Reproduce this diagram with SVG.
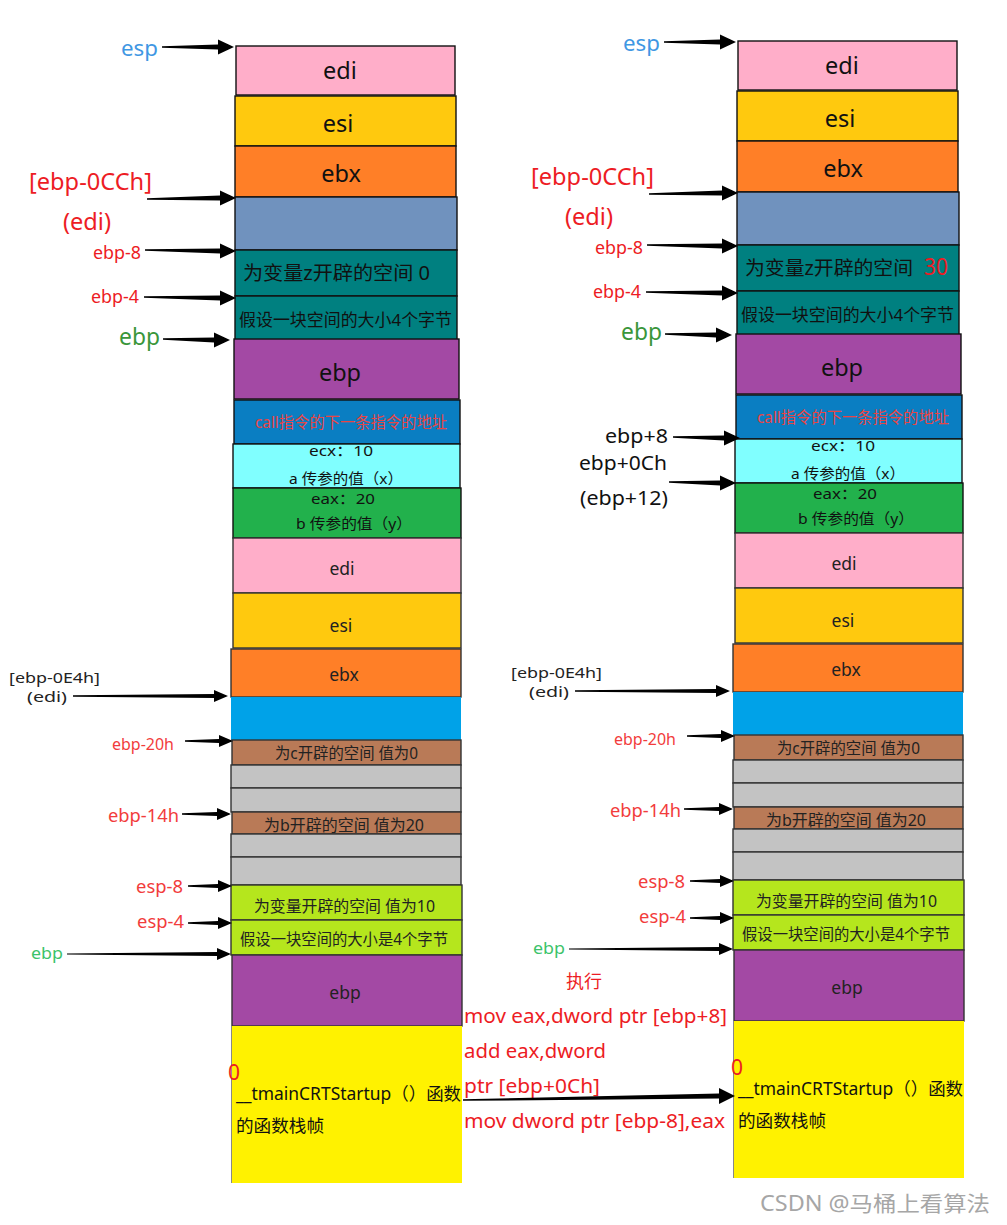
<svg xmlns="http://www.w3.org/2000/svg" width="1007" height="1225" viewBox="0 0 1007 1225">
<style>
text{font-family:"Noto Sans","Noto Sans CJK SC",sans-serif}
.b{stroke:#111;stroke-width:1.4}
.g{stroke:#333;stroke-width:1.4}
.big{font-size:23.5px;fill:#111;text-anchor:middle}
.mid{font-size:17.5px;fill:#222;text-anchor:middle}
.cn{font-size:15px;fill:#111}
.sm{font-size:15.5px;fill:#222}
.arr{fill:#000}
.code{font-size:19.5px;fill:#ED1C24}
</style>
<rect width="1007" height="1225" fill="#fff"/>

<!-- LEFT STACK -->
<g id="left-stack">
<g id="L-edi1"><rect class="b" x="236" y="46" width="219" height="49" fill="#FFAEC9"/><text class="big" x="340" y="79">edi</text></g>
<g id="L-esi1"><rect class="b" x="235" y="96" width="221" height="50" fill="#FFC90E"/><text class="big" x="338" y="132">esi</text></g>
<g id="L-ebx1"><rect class="b" x="235" y="146" width="221" height="51" fill="#FF7F27"/><text class="big" x="341" y="182">ebx</text></g>
<g id="L-edi-space"><rect class="b" x="235" y="197" width="222" height="53" fill="#7092BE"/></g>
<g id="L-z"><rect class="b" x="235" y="250" width="222" height="46" fill="#008080"/><text x="243" y="280" font-size="19.5" fill="#111" textLength="187" lengthAdjust="spacingAndGlyphs">为变量z开辟的空间 0</text></g>
<g id="L-4byte"><rect class="b" x="235" y="296" width="222" height="44" fill="#008080"/><text x="239" y="326" font-size="17" fill="#111" textLength="213" lengthAdjust="spacingAndGlyphs">假设一块空间的大小4个字节</text></g>
<g id="L-ebp1"><rect class="b" x="234" y="339" width="225" height="60" fill="#A349A4"/><text class="big" x="340" y="381">ebp</text></g>
<g id="L-call"><rect class="b" x="234" y="400" width="226" height="44" fill="#0A7EC2"/><text x="255" y="428" font-size="15.5" fill="#E84545" textLength="192" lengthAdjust="spacingAndGlyphs">call指令的下一条指令的地址</text></g>
<g id="L-a"><rect class="b" x="233" y="444" width="227" height="44" fill="#80FFFF"/><text class="cn" x="309" y="456" textLength="64" lengthAdjust="spacingAndGlyphs">ecx：10</text><text class="cn" x="289" y="484" textLength="114" lengthAdjust="spacingAndGlyphs">a 传参的值（x）</text></g>
<g id="L-b"><rect class="b" x="233" y="488" width="228" height="50" fill="#22B14C"/><text class="cn" x="311" y="504" textLength="64" lengthAdjust="spacingAndGlyphs">eax：20</text><text class="cn" x="296" y="529" textLength="116" lengthAdjust="spacingAndGlyphs">b 传参的值（y）</text></g>
<g id="L-edi2"><rect class="g" x="233" y="538" width="228" height="55" fill="#FFAEC9"/><text class="mid" x="342" y="575">edi</text></g>
<g id="L-esi2"><rect class="g" x="233" y="593" width="228" height="55" fill="#FFC90E"/><text class="mid" x="341" y="632">esi</text></g>
<g id="L-ebx2"><rect class="g" x="231" y="649" width="230" height="48" fill="#FF7F27"/><text class="mid" x="344" y="681">ebx</text></g>
<g id="L-edi-space2"><rect x="231" y="697" width="230" height="43" fill="#00A2E8"/></g>
<g id="L-c"><rect class="g" x="232" y="740" width="229" height="25" fill="#B97A57"/><text class="sm" x="275" y="759" textLength="143" lengthAdjust="spacingAndGlyphs">为c开辟的空间 值为0</text></g>
<g id="L-gray1"><rect class="g" x="231" y="765" width="230" height="23" fill="#C3C3C3"/></g>
<g id="L-gray2"><rect class="g" x="231" y="788" width="230" height="24" fill="#C3C3C3"/></g>
<g id="L-bvar"><rect class="g" x="232" y="812" width="229" height="22" fill="#B97A57"/><text class="sm" x="264" y="831" textLength="160" lengthAdjust="spacingAndGlyphs">为b开辟的空间  值为20</text></g>
<g id="L-gray3"><rect class="g" x="231" y="834" width="230" height="23" fill="#C3C3C3"/></g>
<g id="L-gray4"><rect class="g" x="231" y="857" width="230" height="28" fill="#C3C3C3"/></g>
<g id="L-var10"><rect class="g" x="231" y="885" width="231" height="35" fill="#B5E61D"/><text class="sm" x="254" y="912" textLength="181" lengthAdjust="spacingAndGlyphs">为变量开辟的空间  值为10</text></g>
<g id="L-4byte2"><rect class="g" x="231" y="920" width="231" height="35" fill="#B5E61D"/><text class="sm" x="240" y="945" textLength="208" lengthAdjust="spacingAndGlyphs">假设一块空间的大小是4个字节</text></g>
<g id="L-ebp2"><rect class="g" x="232" y="955" width="230" height="71" fill="#A349A4"/><text class="mid" x="345" y="999">ebp</text></g>
<g id="L-main"><rect x="231" y="1026" width="231" height="157" fill="#FFF200"/><line x1="231.5" y1="1026" x2="231.5" y2="1183" stroke="#888" stroke-width="1"/><text x="228" y="1080" font-size="21" fill="#ED1C24">0</text><text x="236" y="1100" font-size="17.5" fill="#111" textLength="225" lengthAdjust="spacingAndGlyphs">__tmainCRTStartup（）函数</text><text x="236" y="1132" font-size="17.5" fill="#111" textLength="88" lengthAdjust="spacingAndGlyphs">的函数栈帧</text></g>
</g>

<!-- LEFT LABELS -->
<g id="left-labels">
<text x="121" y="56" font-size="22" fill="#3F97E3" textLength="37" lengthAdjust="spacingAndGlyphs">esp</text>
<text x="29" y="190" font-size="23" fill="#ED1C24" textLength="123" lengthAdjust="spacingAndGlyphs">[ebp-0CCh]</text>
<text x="63" y="230" font-size="23" fill="#ED1C24" textLength="48" lengthAdjust="spacingAndGlyphs">(edi)</text>
<text x="93" y="259" font-size="17.5" fill="#ED1C24" textLength="48" lengthAdjust="spacingAndGlyphs">ebp-8</text>
<text x="91" y="303" font-size="17.5" fill="#ED1C24" textLength="48" lengthAdjust="spacingAndGlyphs">ebp-4</text>
<text x="119" y="345" font-size="23" fill="#3A963A" textLength="41" lengthAdjust="spacingAndGlyphs">ebp</text>
<text x="9" y="683" font-size="14.5" fill="#222" textLength="91" lengthAdjust="spacingAndGlyphs">[ebp-0E4h]</text>
<text x="27" y="702" font-size="14.5" fill="#222" textLength="40" lengthAdjust="spacingAndGlyphs">(edi)</text>
<text x="112" y="750" font-size="16" fill="#F23C3C" textLength="62" lengthAdjust="spacingAndGlyphs">ebp-20h</text>
<text x="108" y="822" font-size="17.5" fill="#F23C3C" textLength="71" lengthAdjust="spacingAndGlyphs">ebp-14h</text>
<text x="136" y="893" font-size="17.5" fill="#F23C3C" textLength="47" lengthAdjust="spacingAndGlyphs">esp-8</text>
<text x="137" y="928" font-size="17.5" fill="#F23C3C" textLength="47" lengthAdjust="spacingAndGlyphs">esp-4</text>
<text x="31" y="959" font-size="16" fill="#3CC36A" textLength="32" lengthAdjust="spacingAndGlyphs">ebp</text>
</g>

<!-- RIGHT STACK -->
<g id="right-stack" transform="translate(502,-5)">
<g id="R-edi1"><rect class="b" x="236" y="46" width="219" height="49" fill="#FFAEC9"/><text class="big" x="340" y="79">edi</text></g>
<g id="R-esi1"><rect class="b" x="235" y="96" width="221" height="50" fill="#FFC90E"/><text class="big" x="338" y="132">esi</text></g>
<g id="R-ebx1"><rect class="b" x="235" y="146" width="221" height="51" fill="#FF7F27"/><text class="big" x="341" y="182">ebx</text></g>
<g id="R-edi-space"><rect class="b" x="235" y="197" width="222" height="53" fill="#7092BE"/></g>
<g id="R-z"><rect class="b" x="235" y="250" width="222" height="46" fill="#008080"/><text x="243" y="280" font-size="19.5" fill="#111" textLength="168" lengthAdjust="spacingAndGlyphs">为变量z开辟的空间</text><text x="422" y="280" font-size="24" fill="#ED1C24" textLength="24" lengthAdjust="spacingAndGlyphs">30</text></g>
<g id="R-4byte"><rect class="b" x="235" y="296" width="222" height="44" fill="#008080"/><text x="239" y="326" font-size="17" fill="#111" textLength="213" lengthAdjust="spacingAndGlyphs">假设一块空间的大小4个字节</text></g>
<g id="R-ebp1"><rect class="b" x="234" y="339" width="225" height="60" fill="#A349A4"/><text class="big" x="340" y="381">ebp</text></g>
<g id="R-call"><rect class="b" x="234" y="400" width="226" height="44" fill="#0A7EC2"/><text x="255" y="428" font-size="15.5" fill="#E84545" textLength="192" lengthAdjust="spacingAndGlyphs">call指令的下一条指令的地址</text></g>
<g id="R-a"><rect class="b" x="233" y="444" width="227" height="44" fill="#80FFFF"/><text class="cn" x="309" y="456" textLength="64" lengthAdjust="spacingAndGlyphs">ecx：10</text><text class="cn" x="289" y="484" textLength="114" lengthAdjust="spacingAndGlyphs">a 传参的值（x）</text></g>
<g id="R-b"><rect class="b" x="233" y="488" width="228" height="50" fill="#22B14C"/><text class="cn" x="311" y="504" textLength="64" lengthAdjust="spacingAndGlyphs">eax：20</text><text class="cn" x="296" y="529" textLength="116" lengthAdjust="spacingAndGlyphs">b 传参的值（y）</text></g>
<g id="R-edi2"><rect class="g" x="233" y="538" width="228" height="55" fill="#FFAEC9"/><text class="mid" x="342" y="575">edi</text></g>
<g id="R-esi2"><rect class="g" x="233" y="593" width="228" height="55" fill="#FFC90E"/><text class="mid" x="341" y="632">esi</text></g>
<g id="R-ebx2"><rect class="g" x="231" y="649" width="230" height="48" fill="#FF7F27"/><text class="mid" x="344" y="681">ebx</text></g>
<g id="R-edi-space2"><rect x="231" y="697" width="230" height="43" fill="#00A2E8"/></g>
<g id="R-c"><rect class="g" x="232" y="740" width="229" height="25" fill="#B97A57"/><text class="sm" x="275" y="759" textLength="143" lengthAdjust="spacingAndGlyphs">为c开辟的空间 值为0</text></g>
<g id="R-gray1"><rect class="g" x="231" y="765" width="230" height="23" fill="#C3C3C3"/></g>
<g id="R-gray2"><rect class="g" x="231" y="788" width="230" height="24" fill="#C3C3C3"/></g>
<g id="R-bvar"><rect class="g" x="232" y="812" width="229" height="22" fill="#B97A57"/><text class="sm" x="264" y="831" textLength="160" lengthAdjust="spacingAndGlyphs">为b开辟的空间  值为20</text></g>
<g id="R-gray3"><rect class="g" x="231" y="834" width="230" height="23" fill="#C3C3C3"/></g>
<g id="R-gray4"><rect class="g" x="231" y="857" width="230" height="28" fill="#C3C3C3"/></g>
<g id="R-var10"><rect class="g" x="231" y="885" width="231" height="35" fill="#B5E61D"/><text class="sm" x="254" y="912" textLength="181" lengthAdjust="spacingAndGlyphs">为变量开辟的空间  值为10</text></g>
<g id="R-4byte2"><rect class="g" x="231" y="920" width="231" height="35" fill="#B5E61D"/><text class="sm" x="240" y="945" textLength="208" lengthAdjust="spacingAndGlyphs">假设一块空间的大小是4个字节</text></g>
<g id="R-ebp2"><rect class="g" x="232" y="955" width="230" height="71" fill="#A349A4"/><text class="mid" x="345" y="999">ebp</text></g>
<g id="R-main"><rect x="231" y="1026" width="231" height="157" fill="#FFF200"/><line x1="231.5" y1="1026" x2="231.5" y2="1183" stroke="#888" stroke-width="1"/><text x="229" y="1080" font-size="21" fill="#ED1C24">0</text><text x="236" y="1100" font-size="17.5" fill="#111" textLength="225" lengthAdjust="spacingAndGlyphs">__tmainCRTStartup（）函数</text><text x="236" y="1132" font-size="17.5" fill="#111" textLength="88" lengthAdjust="spacingAndGlyphs">的函数栈帧</text></g>
</g>

<!-- RIGHT LABELS -->
<g id="right-labels">
<g transform="translate(502,-5)">
<text x="121" y="56" font-size="22" fill="#3F97E3" textLength="37" lengthAdjust="spacingAndGlyphs">esp</text>
<text x="29" y="190" font-size="23" fill="#ED1C24" textLength="123" lengthAdjust="spacingAndGlyphs">[ebp-0CCh]</text>
<text x="63" y="230" font-size="23" fill="#ED1C24" textLength="48" lengthAdjust="spacingAndGlyphs">(edi)</text>
<text x="93" y="259" font-size="17.5" fill="#ED1C24" textLength="48" lengthAdjust="spacingAndGlyphs">ebp-8</text>
<text x="91" y="303" font-size="17.5" fill="#ED1C24" textLength="48" lengthAdjust="spacingAndGlyphs">ebp-4</text>
<text x="119" y="345" font-size="23" fill="#3A963A" textLength="41" lengthAdjust="spacingAndGlyphs">ebp</text>
<text x="9" y="683" font-size="14.5" fill="#222" textLength="91" lengthAdjust="spacingAndGlyphs">[ebp-0E4h]</text>
<text x="27" y="702" font-size="14.5" fill="#222" textLength="40" lengthAdjust="spacingAndGlyphs">(edi)</text>
<text x="112" y="750" font-size="16" fill="#F23C3C" textLength="62" lengthAdjust="spacingAndGlyphs">ebp-20h</text>
<text x="108" y="822" font-size="17.5" fill="#F23C3C" textLength="71" lengthAdjust="spacingAndGlyphs">ebp-14h</text>
<text x="136" y="893" font-size="17.5" fill="#F23C3C" textLength="47" lengthAdjust="spacingAndGlyphs">esp-8</text>
<text x="137" y="928" font-size="17.5" fill="#F23C3C" textLength="47" lengthAdjust="spacingAndGlyphs">esp-4</text>
<text x="31" y="959" font-size="16" fill="#3CC36A" textLength="32" lengthAdjust="spacingAndGlyphs">ebp</text>
</g>
<text x="605" y="443" font-size="19" fill="#111" textLength="63" lengthAdjust="spacingAndGlyphs">ebp+8</text>
<text x="579" y="470" font-size="19" fill="#111" textLength="88" lengthAdjust="spacingAndGlyphs">ebp+0Ch</text>
<text x="580" y="505" font-size="19" fill="#111" textLength="88" lengthAdjust="spacingAndGlyphs">(ebp+12)</text>
</g>

<!-- MIDDLE CODE -->
<g id="code">
<text x="566" y="988" font-size="18" fill="#ED1C24" textLength="36" lengthAdjust="spacingAndGlyphs">执行</text>
<text class="code" x="464" y="1023" textLength="263" lengthAdjust="spacingAndGlyphs">mov eax,dword ptr [ebp+8]</text>
<text class="code" x="464" y="1058" textLength="142" lengthAdjust="spacingAndGlyphs">add eax,dword</text>
<text class="code" x="464" y="1093" textLength="136" lengthAdjust="spacingAndGlyphs">ptr [ebp+0Ch]</text>
<text class="code" x="464" y="1128" textLength="261" lengthAdjust="spacingAndGlyphs">mov dword ptr [ebp-8],eax</text>
</g>

<!-- CONNECTORS -->
<g id="connectors" class="arr">
<g id="left-arrows">
<path d="M162 46.3 L218 44.6 L218 39.5 L234 47 L218 54.5 L218 49.4 L162 47.7Z"/>
<path d="M147 198.3 L220 195.6 L220 190.5 L236 198 L220 205.5 L220 200.4 L147 199.7Z"/>
<path d="M145 249.3 L220 248.6 L220 243.5 L236 251 L220 258.5 L220 253.4 L145 250.7Z"/>
<path d="M144 296.3 L220 295.6 L220 290.5 L236 298 L220 305.5 L220 300.4 L144 297.7Z"/>
<path d="M163 338.3 L214 337.6 L214 332.5 L230 340 L214 347.5 L214 342.4 L163 339.7Z"/>
<path d="M73 695.3 L214 694 L214 690 L228 696 L214 702 L214 698 L73 696.7Z"/>
<path d="M185 740.3 L219 739 L219 735 L233 741 L219 747 L219 743 L185 741.7Z"/>
<path d="M182 813.3 L217 812 L217 808 L231 814 L217 820 L217 816 L182 814.7Z"/>
<path d="M188 885.3 L218 884 L218 880 L232 886 L218 892 L218 888 L188 886.7Z"/>
<path d="M188 922.3 L218 921 L218 917 L232 923 L218 929 L218 925 L188 923.7Z"/>
<path d="M67 953.4 L217 952 L217 948 L231 954 L217 960 L217 956 L67 954.6Z"/>
</g>
<g id="right-arrows" transform="translate(502,-5)">
<path d="M162 46.3 L218 44.6 L218 39.5 L234 47 L218 54.5 L218 49.4 L162 47.7Z"/>
<path d="M147 198.3 L220 195.6 L220 190.5 L236 198 L220 205.5 L220 200.4 L147 199.7Z"/>
<path d="M145 249.3 L220 248.6 L220 243.5 L236 251 L220 258.5 L220 253.4 L145 250.7Z"/>
<path d="M144 296.3 L220 295.6 L220 290.5 L236 298 L220 305.5 L220 300.4 L144 297.7Z"/>
<path d="M163 338.3 L214 337.6 L214 332.5 L230 340 L214 347.5 L214 342.4 L163 339.7Z"/>
<path d="M73 695.3 L214 694 L214 690 L228 696 L214 702 L214 698 L73 696.7Z"/>
<path d="M185 740.3 L219 739 L219 735 L233 741 L219 747 L219 743 L185 741.7Z"/>
<path d="M182 813.3 L217 812 L217 808 L231 814 L217 820 L217 816 L182 814.7Z"/>
<path d="M188 885.3 L218 884 L218 880 L232 886 L218 892 L218 888 L188 886.7Z"/>
<path d="M188 922.3 L218 921 L218 917 L232 923 L218 929 L218 925 L188 923.7Z"/>
<path d="M67 953.4 L217 952 L217 948 L231 954 L217 960 L217 956 L67 954.6Z"/>
</g>
<path d="M673 436.3 L724 435.6 L724 430.5 L740 438 L724 445.5 L724 440.4 L673 437.7Z"/>
<path d="M669 481.3 L720 480.6 L720 475.5 L736 483 L720 490.5 L720 485.4 L669 482.7Z"/>
<path d="M463 1099.2 L719 1093.5 L719 1088 L735 1096 L719 1104 L719 1098.5 L463 1100.8Z"/>
</g>

<text x="760" y="1211" font-size="21" fill="#A6A6A6" textLength="230" lengthAdjust="spacingAndGlyphs">CSDN @马桶上看算法</text>
</svg>
